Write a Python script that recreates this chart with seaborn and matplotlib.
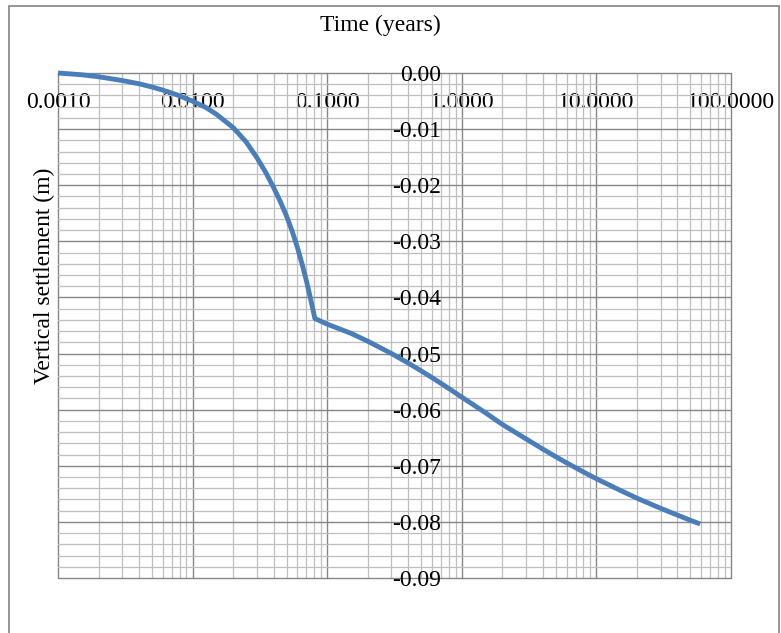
import matplotlib
matplotlib.use("Agg")
import matplotlib.pyplot as plt
from matplotlib.patches import Rectangle
from matplotlib.ticker import LogLocator, MultipleLocator, FixedLocator, FixedFormatter, NullFormatter
import seaborn as sns
import pandas as pd

# Settlement history (time in years, settlement in metres)
time_years = [0.001, 0.0015, 0.002, 0.003, 0.004, 0.005, 0.006, 0.007, 0.008, 0.01,
              0.0125, 0.015, 0.02, 0.025, 0.03, 0.035, 0.04, 0.045, 0.05, 0.055,
              0.06, 0.065, 0.07, 0.075, 0.081, 0.1, 0.15, 0.2, 0.3, 0.4, 0.5,
              0.6, 0.7, 0.8, 1.0, 1.5, 2.0, 3.0, 4.0, 5.0, 6.0, 8.0, 10.0, 15.0,
              20.0, 30.0, 40.0, 50.0, 59.0]
settlement_m = [0.0, -0.00032, -0.00067, -0.00134, -0.00192, -0.00250, -0.00305,
                -0.00357, -0.00407, -0.00502, -0.00613, -0.00734, -0.00972,
                -0.01229, -0.01507, -0.01775, -0.02042, -0.02300, -0.02556,
                -0.02825, -0.03105, -0.03400, -0.03700, -0.04008, -0.04375,
                -0.04476, -0.04639, -0.04780, -0.04999, -0.05170, -0.05310,
                -0.05428, -0.05531, -0.05622, -0.05777, -0.06056, -0.06263,
                -0.06521, -0.06703, -0.06840, -0.06947, -0.07110, -0.07231,
                -0.07437, -0.07577, -0.07758, -0.07879, -0.07972, -0.08037]

x_ticks = [0.001, 0.01, 0.1, 1.0, 10.0, 100.0]
x_tick_labels = ["0.0010", "0.0100", "0.1000", "1.0000", "10.0000", "100.0000"]
y_ticks = [0.0, -0.01, -0.02, -0.03, -0.04, -0.05, -0.06, -0.07, -0.08, -0.09]
y_tick_labels = ["0.00", "-0.01", "-0.02", "-0.03", "-0.04", "-0.05", "-0.06",
                 "-0.07", "-0.08", "-0.09"]

sns.set_theme(style="white")
plt.rcParams["font.family"] = ["Liberation Serif", "DejaVu Serif"]
plt.rcParams["axes.unicode_minus"] = False

W, H = 781, 633
fig = plt.figure(figsize=(W / 100, H / 100), dpi=100)
fig.patch.set_facecolor("white")

# Plot area in pixel coordinates
left, right, top, bottom = 58, 731, 73, 578
ax = fig.add_axes([left / W, 1 - bottom / H, (right - left) / W, (bottom - top) / H])
ax.set_facecolor("white")

df = pd.DataFrame({"t": time_years, "s": settlement_m})
sns.lineplot(data=df, x="t", y="s", ax=ax, color="#4a7ebb", linewidth=3.5,
             sort=True, estimator=None, zorder=5)
for ln in ax.lines:
    ln.set_clip_on(False)
    ln.set_solid_capstyle("butt")
    ln.set_solid_joinstyle("round")

ax.set_xscale("log")
ax.set_xlim(0.001, 100)
ax.set_ylim(-0.09, 0.0)

ax.xaxis.set_major_locator(FixedLocator(x_ticks))
ax.xaxis.set_major_formatter(FixedFormatter(x_tick_labels))
ax.xaxis.set_minor_locator(LogLocator(base=10, subs=[2, 3, 4, 5, 6, 7, 8, 9], numticks=20))
ax.xaxis.set_minor_formatter(NullFormatter())
ax.yaxis.set_major_locator(FixedLocator(y_ticks))
ax.yaxis.set_major_formatter(FixedFormatter(y_tick_labels))
ax.yaxis.set_minor_locator(MultipleLocator(0.002))

# Axes cross at y = 0 and x = 1
ax.spines["bottom"].set_position(("data", 0.0))
ax.spines["left"].set_position(("data", 1.0))
for sp in ax.spines.values():
    sp.set_visible(False)

ax.tick_params(axis="x", which="both", length=0, pad=14, labelsize=17, colors="black")
ax.tick_params(axis="y", which="both", length=0, pad=15, labelsize=17, colors="black")

ax.grid(which="major", color="#868686", linewidth=1.0)
ax.grid(which="minor", color="#bfbfbf", linewidth=0.9)
ax.set_axisbelow(True)
for gl in ax.get_xgridlines() + ax.get_ygridlines():
    gl.set_clip_on(False)

ax.set_xlabel("Time (years)", fontsize=17, color="black")
ax.xaxis.set_label_coords((380 - left) / (right - left), 1 + (top - 25) / (bottom - top))
ax.xaxis.label.set_va("center")
ax.set_ylabel("Vertical settlement (m)", fontsize=17, color="black")
ax.yaxis.set_label_coords((44 - left) / (right - left), (bottom - 276) / (bottom - top))
ax.yaxis.label.set_ha("center")
ax.yaxis.label.set_va("center")

# Chart frame
fig.patches.append(Rectangle((9 / W, -0.05), (779 - 9) / W, (H - 6) / H + 0.05,
                             transform=fig.transFigure, fill=False,
                             edgecolor="#8c8c8c", linewidth=1.3))

fig.savefig("out.png", dpi=100, facecolor="white")
